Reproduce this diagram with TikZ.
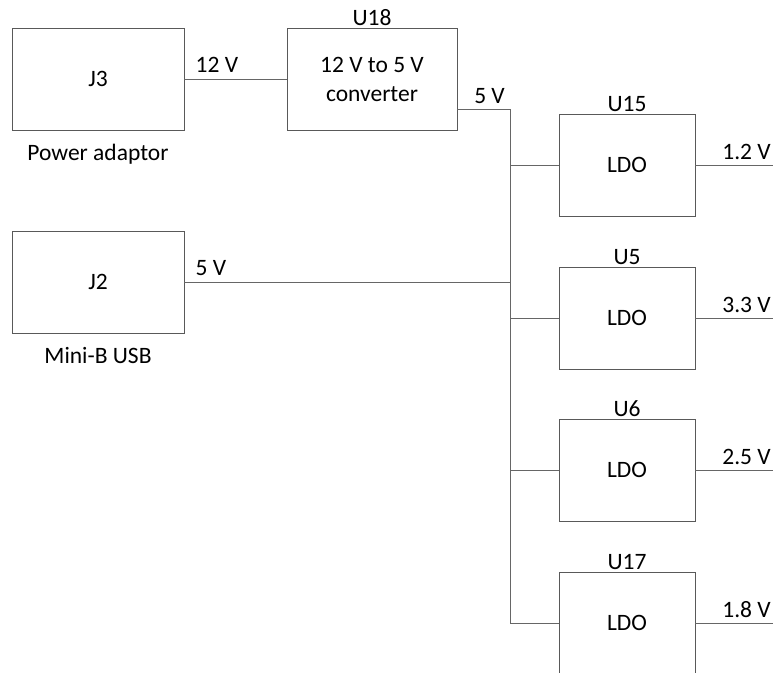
\documentclass[tikz,border=0pt]{standalone}
\usepackage{fontspec}
\setmainfont{Carlito}
\usepackage{tikz}
\usetikzlibrary{calc}
\tikzset{
  wire/.style={line width=0.9pt, draw=black!60},
  blk/.style={rectangle, draw=black!65, line width=0.9pt, minimum width=172pt, minimum height=102pt, inner sep=0pt, align=center, font=\fontsize{23.5}{29}\selectfont},
  ldo/.style={blk, minimum width=136pt},
  lbl/.style={font=\fontsize{23.5}{29}\selectfont, inner sep=1pt},
  }
\begin{document}
\begin{tikzpicture}[x=1pt,y=-1pt]
  \useasboundingbox (0,0) rectangle (773,672);
  \clip (0,0) rectangle (773,672);

  % sources
  \node[blk] (j3) at (98,79) {J3};
  \node[blk] (j2) at (98,282) {J2};
  \node[lbl,below=13pt] at (j3.south) {Power adaptor};
  \node[lbl,below=13pt] at (j2.south) {Mini-B USB};

  % converter
  \node[blk,minimum width=170pt] (u18) at (372,79) {12 V to 5 V\\converter};
  \node[lbl,above=1pt] at (u18.north) {U18};

  % regulators
  \node[ldo] (u15) at (627,165) {LDO};
  \node[ldo] (u5)  at (627,318) {LDO};
  \node[ldo] (u6)  at (627,470) {LDO};
  \node[ldo] (u17) at (627,623) {LDO};
  \node[lbl,above=1pt] at (u15.north) {U15};
  \node[lbl,above=1pt] at (u5.north)  {U5};
  \node[lbl,above=1pt] at (u6.north)  {U6};
  \node[lbl,above=1pt] at (u17.north) {U17};

  % 5 V bus
  \coordinate (bustop) at (510,109);
  \coordinate (busend) at (510,623);
  \draw[wire] (j3.east) -- (u18.west);
  \draw[wire] (u18.east |- bustop) -- (bustop) -- (busend);
  \draw[wire] (j2.east) -- (j2.east -| bustop);
  \foreach \u in {u15,u5,u6,u17}
    \draw[wire] (\u.west -| bustop) -- (\u.west);

  % outputs
  \foreach \u/\v in {u15/1.2,u5/3.3,u6/2.5,u17/1.8}{
    \coordinate (\u out) at (\u.east -| 773,0);
    \draw[wire] (\u.east) -- (\u out);
    \node[lbl,anchor=south east] at ($(\u out)+(-1,-4)$) {\v~V};
  }

  % wire labels
  \node[lbl,anchor=south west] at ($(j3.east)+(10,-5)$) {12 V};
  \node[lbl,anchor=south east] at ($(bustop)+(-4,-4)$) {5 V};
  \node[lbl,anchor=south west] at ($(j2.east)+(10,-5)$) {5 V};
\end{tikzpicture}
\end{document}
